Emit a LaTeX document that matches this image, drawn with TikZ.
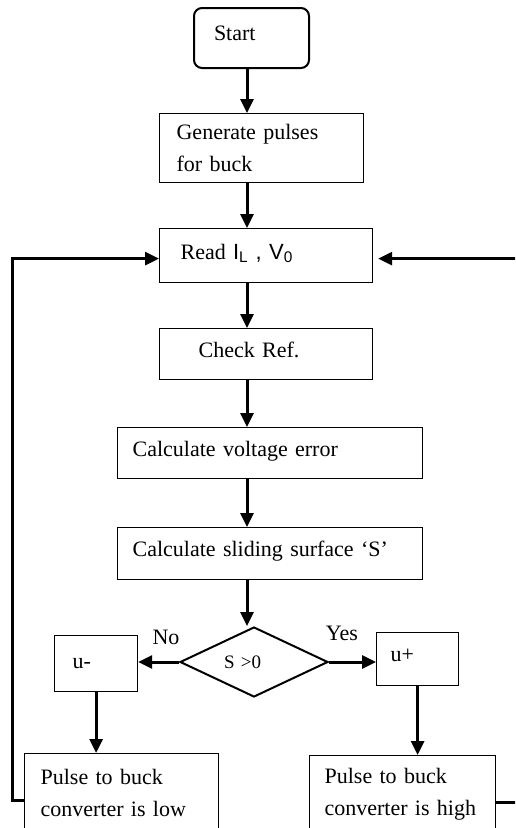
\documentclass[tikz,border=0pt]{standalone}
\usepackage{fontspec}
\setmainfont{Liberation Serif}
\setsansfont{Liberation Sans}
\usetikzlibrary{arrows.meta,shapes.geometric}

\begin{document}
\begin{tikzpicture}[x=1pt,y=-1pt,font=\fontsize{22}{32}\selectfont,
  box/.style={draw,line width=1.2pt,anchor=north west,align=left,inner ysep=0pt},
  flow/.style={line width=3pt,-{Triangle[length=14pt,width=13pt]}}]
\useasboundingbox (0,0) rectangle (515,828);
\clip (0,0) rectangle (515,828);
\node[box,line width=2pt,rounded corners=8pt,minimum height=60pt,inner xsep=20pt,text width=75pt,text depth=10pt] (start) at (193,7) {Start};
\node[box,minimum height=69pt,inner xsep=17pt,text width=170pt] (gen) at (159,113) {Generate pulses\\for buck};
\node[box,minimum height=54pt,inner xsep=21pt,text width=171pt,text depth=8pt] (read) at (159,228) {Read {\sffamily I\textsubscript{L} , V\textsubscript{0}}};
\node[box,minimum height=51pt,inner xsep=39pt,text width=135pt,text depth=9pt] (check) at (159,328) {Check Ref.};
\node[box,minimum height=51pt,inner xsep=15pt,text width=275pt,text depth=9pt] (volt) at (117,427) {Calculate voltage error};
\node[box,minimum height=52pt,inner xsep=15pt,text width=275pt,text depth=9pt] (slide) at (117,527) {Calculate sliding surface `S'};
\node[draw,diamond,aspect=2,line width=2pt,minimum width=148pt,minimum height=70pt,inner sep=0pt,text width=60pt,align=left,font=\fontsize{19}{23}\selectfont] (dec) at (254,662) {S >0};
\node[box,minimum height=56pt,inner xsep=18pt,text width=47pt] (uminus) at (54,635) {u-};
\node[box,minimum height=53pt,inner xsep=14pt,text width=54pt,text depth=7pt] (uplus) at (376,632) {u+};
\node[box,minimum height=78pt,inner xsep=16pt,text width=162pt] (low) at (24,753) {Pulse to buck\\converter is low};
\node[box,minimum height=78pt,inner xsep=15pt,text width=156pt] (high) at (309,755) {Pulse to buck\\converter is high};
\node (no) at (166,637) {No};
\node (yes) at (342,633) {Yes};
\coordinate (spine) at (247,0);
\foreach \p/\q in {start/gen,gen/read,read/check,check/volt,volt/slide,slide/dec}
  \draw[flow] (\p.south -| spine) -- (\q.north -| spine);
\draw[flow] (dec.west) -- (dec.west -| uminus.east);
\draw[flow] (dec.east) -- (dec.east -| uplus.west);
\draw[flow] (uminus.south) -- (low.north -| uminus.south);
\draw[flow] (uplus.south) -- (high.north -| uplus.south);
\draw[flow] ([yshift=-8pt]low.west) -- ++(-12,0) |- ([yshift=-3pt]read.west);
\draw[flow,shorten >=5pt] ([yshift=-8pt]high.east) -- ++(24,0) |- ([yshift=-3pt]read.east);
\end{tikzpicture}
\end{document}
